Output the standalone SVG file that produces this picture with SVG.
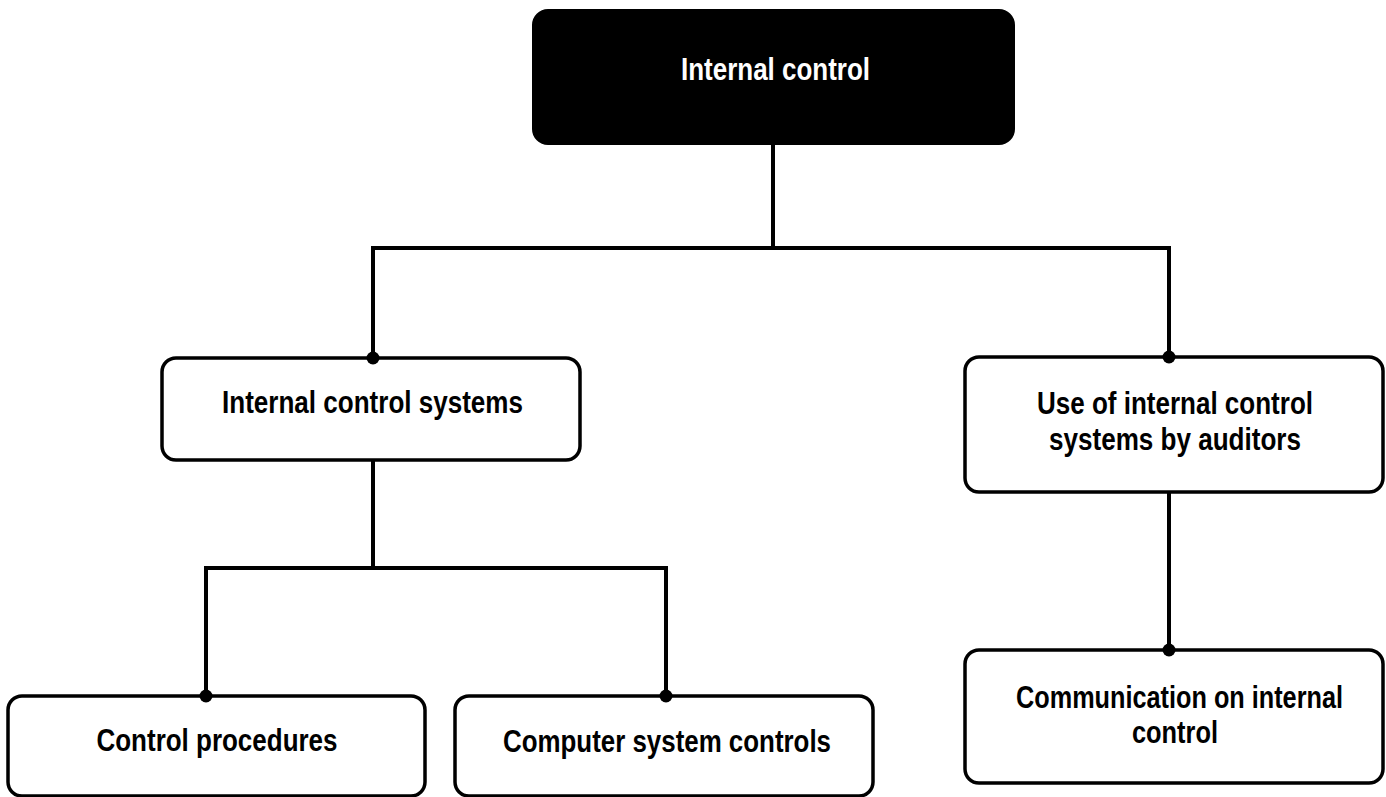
<svg xmlns="http://www.w3.org/2000/svg" width="1386" height="797" viewBox="0 0 1386 797">
<style>
.box{fill:#fff;stroke:#000;stroke-width:3.5}
.top{fill:#000;stroke:#000;stroke-width:2}
.lbl{font-family:"Liberation Sans Narrow","Liberation Sans",Arial,sans-serif;font-weight:bold;font-size:31px;text-anchor:middle;fill:#000}
.w{fill:#fff}
.ln{fill:none;stroke:#000;stroke-width:4}
.dot{fill:#000}
</style>
<rect width="1386" height="797" fill="#fff"/>
<g id="n-internal-control">
<rect class="top" x="533" y="10" width="481" height="134" rx="15"/>
<text class="lbl w" x="775.5" y="80" textLength="189" lengthAdjust="spacingAndGlyphs">Internal control</text>
</g>
<g id="n-systems">
<rect class="box" x="162" y="358" width="418" height="102" rx="14"/>
<text class="lbl" x="372.5" y="413" textLength="301" lengthAdjust="spacingAndGlyphs">Internal control systems</text>
</g>
<g id="n-auditors">
<rect class="box" x="965" y="357" width="418" height="135" rx="14"/>
<text class="lbl" x="1175" y="414" textLength="276" lengthAdjust="spacingAndGlyphs">Use of internal control</text>
<text class="lbl" x="1175" y="450" textLength="252" lengthAdjust="spacingAndGlyphs">systems by auditors</text>
</g>
<g id="n-procedures">
<rect class="box" x="8" y="696" width="417" height="100" rx="14"/>
<text class="lbl" x="217" y="751" textLength="241" lengthAdjust="spacingAndGlyphs">Control procedures</text>
</g>
<g id="n-computer">
<rect class="box" x="455" y="696" width="418" height="100" rx="14"/>
<text class="lbl" x="667" y="752" textLength="328" lengthAdjust="spacingAndGlyphs">Computer system controls</text>
</g>
<g id="n-communication">
<rect class="box" x="965" y="650" width="418" height="133" rx="14"/>
<text class="lbl" x="1179.5" y="708" textLength="327" lengthAdjust="spacingAndGlyphs">Communication on internal</text>
<text class="lbl" x="1175" y="743" textLength="86" lengthAdjust="spacingAndGlyphs">control</text>
</g>
<g id="connectors">
<path class="ln" d="M773 144 V248 M373 358 V248 H1169 V357"/>
<path class="ln" d="M373 460 V568 M206 696 V568 H666 V696"/>
<path class="ln" d="M1169 492 V650"/>
<circle class="dot" cx="373" cy="358" r="6.5"/>
<circle class="dot" cx="1169" cy="357" r="6.5"/>
<circle class="dot" cx="206" cy="696" r="6.5"/>
<circle class="dot" cx="666" cy="696" r="6.5"/>
<circle class="dot" cx="1169" cy="650" r="6.5"/>
</g>
</svg>
